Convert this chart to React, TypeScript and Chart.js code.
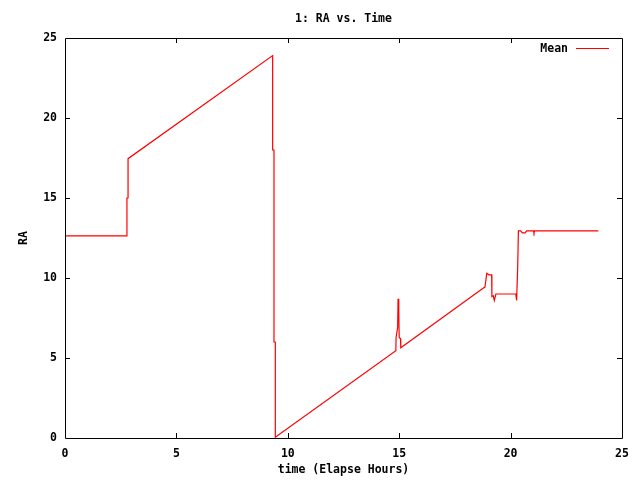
import React, { useEffect, useRef } from "react";
import { Chart, registerables } from "chart.js";

Chart.register(...registerables);

const chartTitle = "1: RA vs. Time";
const xAxisLabel = "time (Elapse Hours)";
const yAxisLabel = "RA";
const seriesLabel = "Mean";

const timeHours = [
  0, 2.78, 2.78, 2.83, 2.83, 9.32, 9.32, 9.38, 9.38, 9.44, 9.44,
  14.85, 14.86, 14.93, 14.95, 14.98, 15.0, 15.06, 15.07,
  18.78, 18.85, 18.93, 19.03, 19.15, 19.16, 19.22, 19.27, 19.34,
  20.23, 20.27, 20.32, 20.35, 20.45, 20.53, 20.65, 20.72,
  21.02, 21.05, 21.08, 23.94,
];
const raMean = [
  12.63, 12.63, 15.0, 15.0, 17.46, 23.9, 18.0, 18.0, 6.0, 6.0, 0.05,
  5.45, 6.3, 6.9, 8.7, 8.0, 6.3, 6.2, 5.64,
  9.37, 9.43, 10.3, 10.2, 10.2, 8.84, 8.89, 8.6, 9.0,
  9.0, 8.6, 10.76, 12.95, 12.95, 12.82, 12.82, 12.95,
  12.95, 12.82, 12.95, 12.95,
];
const xTicks = [0, 5, 10, 15, 20, 25];
const yTicks = [0, 5, 10, 15, 20, 25];

const FONT_FAMILY = "'DejaVu Sans Mono', 'Liberation Mono', monospace";
const FONT = { family: FONT_FAMILY, size: 11.5, weight: "bold" as const, lineHeight: 1.2 };

const framePlugin = {
  id: "gnuplotFrame",
  afterDatasetsDraw(chart: any) {
    const { ctx, chartArea } = chart;
    const { left, right, top, bottom } = chartArea;
    const xs = chart.scales.x;
    const ys = chart.scales.y;
    ctx.save();
    ctx.strokeStyle = "#000000";
    ctx.lineWidth = 1;
    ctx.beginPath();
    ctx.rect(Math.round(left) + 0.5, Math.round(top) + 0.5, Math.round(right - left), Math.round(bottom - top));
    ctx.stroke();
    const tl = 5;
    ctx.beginPath();
    xs.ticks.forEach((t: any) => {
      const px = Math.round(xs.getPixelForValue(t.value)) + 0.5;
      if (px <= left + 1 || px >= right - 1) return;
      ctx.moveTo(px, bottom);
      ctx.lineTo(px, bottom - tl);
      ctx.moveTo(px, top);
      ctx.lineTo(px, top + tl);
    });
    ys.ticks.forEach((t: any) => {
      const py = Math.round(ys.getPixelForValue(t.value)) + 0.5;
      if (py <= top + 1 || py >= bottom - 1) return;
      ctx.moveTo(left, py);
      ctx.lineTo(left + tl, py);
      ctx.moveTo(right, py);
      ctx.lineTo(right - tl, py);
    });
    ctx.stroke();

    // legend (inside top-right)
    const ds = chart.data.datasets[0];
    ctx.font = `bold ${FONT.size}px ${FONT_FAMILY}`;
    ctx.fillStyle = "#000000";
    ctx.textAlign = "right";
    ctx.textBaseline = "middle";
    const ly = top + 10;
    ctx.fillText(ds.label, right - 54, ly + 1);
    ctx.strokeStyle = ds.borderColor;
    ctx.beginPath();
    ctx.moveTo(right - 46, ly + 0.5);
    ctx.lineTo(right - 13, ly + 0.5);
    ctx.stroke();
    ctx.restore();
  },
};

export default function App() {
  const canvasRef = useRef<HTMLCanvasElement | null>(null);

  useEffect(() => {
    if (!canvasRef.current) return;
    const data = timeHours.map((t, i) => ({ x: t, y: raMean[i] }));
    const chart = new Chart(canvasRef.current, {
      type: "line",
      data: {
        datasets: [
          {
            label: seriesLabel,
            data,
            borderColor: "#ff0000",
            backgroundColor: "#ff0000",
            borderWidth: 1.2,
            pointRadius: 0,
            tension: 0,
            fill: false,
          },
        ],
      },
      options: {
        animation: false,
        responsive: false,
        events: [],
        layout: { padding: { left: 0, right: 18, top: 0, bottom: 0 } },
        plugins: {
          legend: { display: false },
          tooltip: { enabled: false },
          title: {
            display: true,
            text: chartTitle,
            fullSize: false,
            color: "#000000",
            font: FONT,
            padding: { top: 12, bottom: 12.2 },
          },
        },
        scales: {
          x: {
            type: "linear",
            min: 0,
            max: 25,
            afterBuildTicks: (scale: any) => {
              scale.ticks = xTicks.map((v) => ({ value: v }));
            },
            afterFit: (scale: any) => {
              scale.height = 42;
            },
            grid: { display: false, drawTicks: false },
            border: { display: false },
            ticks: { color: "#000000", font: FONT, padding: 9, maxRotation: 0, autoSkip: false },
            title: {
              display: true,
              text: xAxisLabel,
              color: "#000000",
              font: FONT,
              padding: { top: 0, bottom: 3 },
            },
          },
          y: {
            type: "linear",
            min: 0,
            max: 25,
            afterBuildTicks: (scale: any) => {
              scale.ticks = yTicks.map((v) => ({ value: v }));
            },
            afterFit: (scale: any) => {
              scale.width = 65;
            },
            grid: { display: false, drawTicks: false },
            border: { display: false },
            ticks: { color: "#000000", font: FONT, padding: 8, autoSkip: false },
            title: {
              display: true,
              text: yAxisLabel,
              color: "#000000",
              font: FONT,
              padding: { top: 17, bottom: 0 },
            },
          },
        },
      },
      plugins: [framePlugin],
    });
    return () => chart.destroy();
  }, []);

  return (
    <div style={{ position: "absolute", left: 0, top: 0, width: 640, height: 480, background: "#ffffff" }}>
      <canvas ref={canvasRef} width={640} height={480} style={{ width: 640, height: 480 }} />
    </div>
  );
}
